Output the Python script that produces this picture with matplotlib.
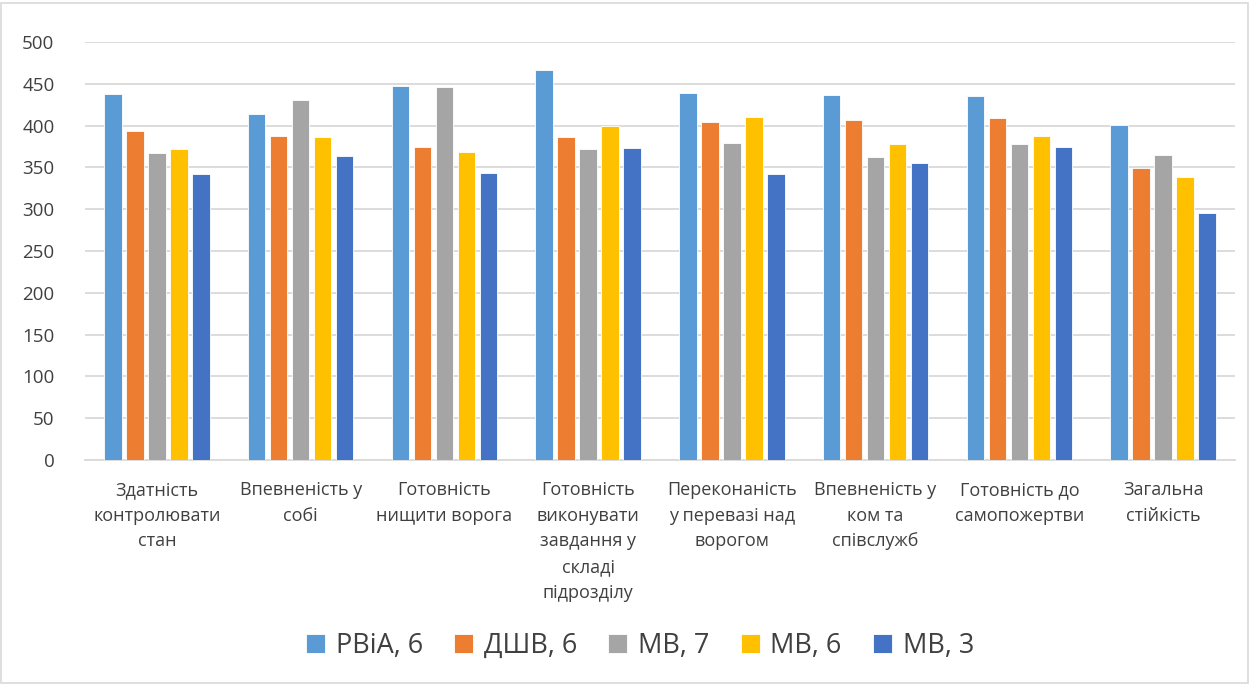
import numpy as np
import matplotlib.pyplot as plt
from matplotlib.patches import Rectangle

plt.rcParams['font.family'] = ['Open Sans', 'DejaVu Sans']

categories = [
    'Здатність\nконтролювати\nстан',
    'Впевненість у\nсобі',
    'Готовність\nнищити ворога',
    'Готовність\nвиконувати\nзавдання у\nскладі\nпідрозділу',
    'Переконаність\nу перевазі над\nворогом',
    'Впевненість у\nком та\nспівслужб',
    'Готовність до\nсамопожертви',
    'Загальна\nстійкість',
]
series_names = ['РВіА, 6', 'ДШВ, 6', 'МВ, 7', 'МВ, 6', 'МВ, 3']
rvia_6 = [438, 414, 447, 466, 439, 437, 435, 401]
dshv_6 = [393, 387, 375, 386, 404, 407, 409, 349]
mv_7 = [367, 431, 446, 372, 379, 362, 378, 365]
mv_6 = [372, 386, 368, 399, 410, 378, 387, 339]
mv_3 = [342, 364, 343, 373, 342, 355, 374, 296]
series = [rvia_6, dshv_6, mv_7, mv_6, mv_3]
colors = ['#5b9bd5', '#ed7d31', '#a5a5a5', '#ffc000', '#4472c4']
yticks = list(range(0, 501, 50))

fig = plt.figure(figsize=(12.52, 6.84), dpi=100)
ax = fig.add_axes([85 / 1252, 1 - 460 / 684, 1150 / 1252, 418 / 684])

x = np.arange(len(categories))
step = 0.153
width = 0.122
for i, (vals, c, name) in enumerate(zip(series, colors, series_names)):
    ax.bar(x + (i - 2) * step, vals, width, color=c, label=name,
           edgecolor='white', linewidth=0.6, zorder=3)

ax.set_xlim(-0.5, len(categories) - 0.5)
ax.set_ylim(0, 500)
ax.set_yticks(yticks)
ax.set_xticks(x)
ax.set_xticklabels(categories, fontsize=13, color='#404040', linespacing=1.55)
ax.tick_params(axis='y', labelsize=13.5, colors='#404040', length=0, pad=22)
ax.tick_params(axis='x', length=0, pad=15)
ax.grid(axis='y', color='#d9d9d9', linewidth=1.3, zorder=0)
for s in ['top', 'right', 'left']:
    ax.spines[s].set_visible(False)
ax.spines['bottom'].set_color('#d9d9d9')
ax.spines['bottom'].set_linewidth(1.3)

fig.legend(loc='center', bbox_to_anchor=(640 / 1252, 1 - 646 / 684), ncol=5,
           frameon=False, fontsize=19.5, handlelength=0.7, handleheight=0.7,
           handletextpad=0.4, columnspacing=1.15, labelcolor='#404040')

fig.patches.append(Rectangle((1 / 1252, 1 / 684), 1247 / 1252, 680 / 684,
                             transform=fig.transFigure, fill=False,
                             edgecolor='#d9d9d9', linewidth=1.2))

fig.savefig('out.png', dpi=100)
